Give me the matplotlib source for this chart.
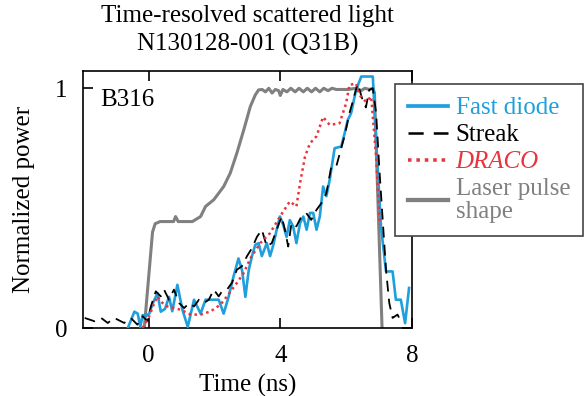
import matplotlib
matplotlib.use("Agg")
import matplotlib.pyplot as plt

plt.rcParams['font.family'] = ['Liberation Serif', 'DejaVu Serif']

# ---- data ----
laser_t = [-0.13, 0.12, 0.20, 0.35, 0.60, 0.76, 0.82, 0.90, 1.00, 1.33, 1.58, 1.73, 1.98,
           2.28, 2.48, 2.68, 2.89, 3.09, 3.24, 3.34, 3.45, 3.55, 3.65, 3.75, 3.85, 3.95,
           4.00, 4.08, 4.20, 4.32, 4.45, 4.57, 4.70, 4.82, 4.95, 5.07, 5.20, 5.32, 5.45,
           5.57, 5.70, 5.82, 5.95, 6.07, 6.20, 6.32, 6.45, 6.57, 6.70, 6.82, 6.86, 7.09]
laser_v = [0.0, 0.40, 0.435, 0.444, 0.444, 0.444, 0.465, 0.444, 0.444, 0.444, 0.465, 0.507, 0.535,
           0.59, 0.646, 0.729, 0.826, 0.924, 0.972, 0.993, 0.995, 0.985, 1.0, 0.98, 0.995, 0.99,
           0.97, 0.995, 0.985, 1.0, 0.985, 1.0, 0.985, 1.0, 0.985, 1.0, 0.985, 1.0, 0.99,
           1.0, 0.995, 0.995, 0.995, 0.995, 0.998, 1.0, 0.99, 1.0, 0.995, 1.0, 0.98, 0.0]

diode_t = [-0.63, -0.43, -0.33, -0.25, -0.18, -0.08, 0.02, 0.12, 0.27, 0.37, 0.50, 0.62, 0.72,
           0.875, 1.03, 1.19, 1.38, 1.58, 1.73, 2.13, 2.28, 2.43, 2.58, 2.73, 2.84, 2.94,
           3.04, 3.14, 3.24, 3.34, 3.44, 3.59, 3.69, 3.79, 3.89, 3.99, 4.09, 4.19, 4.29,
           4.39, 4.49, 4.60, 4.70, 4.80, 4.90, 5.00, 5.10, 5.20, 5.30, 5.40, 5.50, 5.65,
           5.85, 5.95, 6.05, 6.15, 6.30, 6.46, 6.81, 6.86, 6.96, 7.06, 7.21, 7.41, 7.51,
           7.66, 7.79, 7.91]
diode_v = [0.0, 0.068, 0.06, 0.005, 0.054, 0.05, 0.06, 0.10, 0.145, 0.068, 0.08, 0.13, 0.07,
           0.18, 0.075, 0.005, 0.118, 0.06, 0.118, 0.118, 0.06, 0.13, 0.215, 0.29, 0.24, 0.13,
           0.24, 0.30, 0.347, 0.354, 0.30, 0.354, 0.30, 0.347, 0.41, 0.465, 0.43, 0.38, 0.45,
           0.424, 0.354, 0.4375, 0.465, 0.41, 0.48, 0.48, 0.41, 0.465, 0.59, 0.55, 0.618, 0.75,
           0.757, 0.81, 0.868, 0.896, 0.993, 1.049, 1.049, 0.91, 0.66, 0.42, 0.236, 0.236, 0.118,
           0.118, 0.02, 0.167]

streak_t = [-1.94, -1.64, -1.44, -1.24, -1.04, -0.74, -0.54, -0.34, -0.18, -0.03, 0.07, 0.22,
            0.37, 0.47, 0.62, 0.77, 0.93, 1.08, 1.23, 1.38, 1.53, 1.68, 1.83, 1.98, 2.13,
            2.23, 2.38, 2.53, 2.68, 2.83, 2.99, 3.14, 3.29, 3.44, 3.59, 3.74, 3.89, 4.04,
            4.14, 4.24, 4.34, 4.49, 4.64, 4.79, 4.94, 5.10, 5.25, 5.40, 5.55, 5.70, 5.81,
            5.95, 6.10, 6.20, 6.35, 6.50, 6.60, 6.70, 6.81, 6.91, 7.01, 7.11, 7.21, 7.31,
            7.41, 7.56, 7.66]
streak_v = [0.042, 0.028, 0.042, 0.021, 0.042, 0.021, 0.042, 0.014, 0.049, 0.028, 0.09, 0.153,
            0.132, 0.16, 0.118, 0.16, 0.104, 0.083, 0.104, 0.09, 0.118, 0.104, 0.118, 0.16, 0.132,
            0.153, 0.16, 0.188, 0.243, 0.257, 0.30, 0.333, 0.38, 0.41, 0.34, 0.354, 0.41, 0.465,
            0.41, 0.34, 0.438, 0.424, 0.465, 0.479, 0.451, 0.493, 0.521, 0.5625, 0.674, 0.674, 0.73,
            0.80, 0.896, 0.944, 1.02, 0.95, 0.92, 0.993, 1.0, 0.896, 0.66, 0.45, 0.243, 0.104,
            0.042, 0.056, 0.028]

draco_t = [-0.18, 0.02, 0.17, 0.27, 0.37, 0.57, 0.98, 1.28, 1.58, 1.88, 2.18, 2.38, 2.68,
           2.89, 3.09, 3.39, 3.69, 3.99, 4.29, 4.49, 4.60, 4.75, 4.90, 5.10, 5.30, 5.50,
           5.80, 6.00, 6.10, 6.30, 6.40, 6.60, 6.76, 6.91, 7.02]
draco_v = [0.0, 0.049, 0.104, 0.132, 0.11, 0.09, 0.076, 0.056, 0.056, 0.069, 0.097, 0.132, 0.1875,
           0.23, 0.29, 0.354, 0.396, 0.465, 0.528, 0.507, 0.604, 0.715, 0.77, 0.80, 0.88, 0.847,
           0.854, 0.9375, 1.014, 1.02, 0.972, 0.944, 0.965, 0.715, 0.43]

labels = ["Fast diode", "Streak", "DRACO", "Laser pulse\nshape"]
xticks = [0, 4, 8]
yticks = [0, 1]

BLUE = '#1f9fdc'
RED = '#e8343c'
GRAY = '#808080'

fig = plt.figure(figsize=(5.87, 3.96), dpi=100)
ax = fig.add_axes([0.1409, 0.1717, 0.561, 0.649])

l4, = ax.plot(laser_t, laser_v, color=GRAY, lw=2.2, zorder=2)
l1, = ax.plot(diode_t, diode_v, color=BLUE, lw=1.9, zorder=3)
l2, = ax.plot(streak_t, streak_v, color='black', lw=1.3, ls=(0, (6, 4)), zorder=4)
l3, = ax.plot(draco_t, draco_v, color=RED, lw=1.8, ls=(0, (1, 1.4)), zorder=5)

ax.set_xlim(-2, 8)
ax.set_ylim(0, 1.072)
ax.set_xticks(xticks)
ax.set_yticks(yticks)
ax.set_xticklabels([str(v) for v in xticks])
ax.set_yticklabels([str(v) for v in yticks])
ax.tick_params(direction='in', length=7, width=1.2, top=True, right=True,
               labelsize=18)
ax.tick_params(axis='x', pad=12)
ax.tick_params(axis='y', pad=11)
for s in ax.spines.values():
    s.set_linewidth(1.2)

ax.set_xlabel("Time (ns)", fontsize=18, labelpad=5)
ax.set_ylabel("Normalized power", fontsize=18, labelpad=14)
ax.set_title("Time-resolved scattered light\nN130128-001 (Q31B)", fontsize=18, pad=15,
             linespacing=1.3)

ax.text(0.0525, 0.864, "B316", transform=ax.transAxes, fontsize=18, va='baseline', ha='left')

leg = fig.legend([l1, l2, l3, l4], labels, loc='upper left',
                 bbox_to_anchor=(0.673, 0.788), bbox_transform=fig.transFigure,
                 fontsize=18, frameon=True, fancybox=False, framealpha=1,
                 edgecolor='#444444', borderaxespad=0, handlelength=1.6,
                 handletextpad=0.3, labelspacing=0.18, borderpad=0.52)
leg.get_frame().set_linewidth(1.2)
for line in leg.get_lines():
    line.set_linewidth(line.get_linewidth() * 1.4)
for txt, c in zip(leg.get_texts(), [BLUE, 'black', RED, GRAY]):
    txt.set_color(c)
leg.get_texts()[2].set_fontstyle('italic')
leg.get_texts()[3].set_linespacing(1.05)

fig.savefig('out.png', dpi=100)
